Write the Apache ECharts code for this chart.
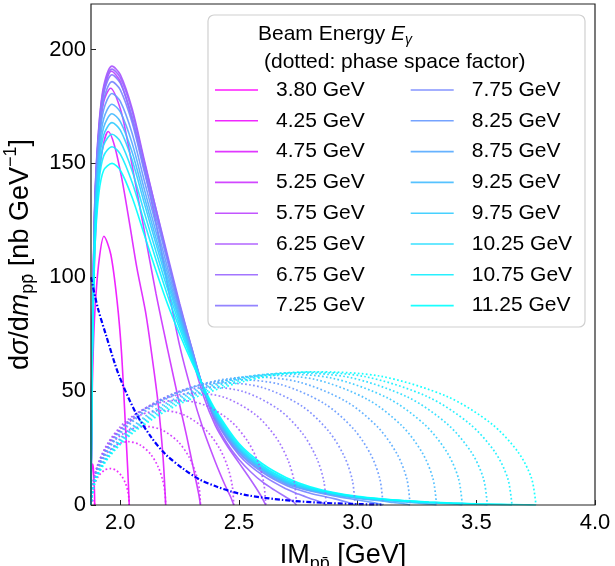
<!DOCTYPE html>
<html>
<head>
<meta charset="utf-8">
<script src="https://cdn.jsdelivr.net/npm/echarts@6/dist/echarts.min.js"></script>
<style>
html,body{margin:0;padding:0;background:#fff;}
#chart{width:615px;height:566px;}
</style>
</head>
<body>
<div id="chart"></div>
<script>
// ---------------- data ----------------
const energies = ['3.80 GeV','4.25 GeV','4.75 GeV','5.25 GeV','5.75 GeV','6.25 GeV','6.75 GeV','7.25 GeV',
                  '7.75 GeV','8.25 GeV','8.75 GeV','9.25 GeV','9.75 GeV','10.25 GeV','10.75 GeV','11.25 GeV'];
const xTicks = [2.0, 2.5, 3.0, 3.5, 4.0];
const yTicks = [0, 50, 100, 150, 200];
const X_MIN = 1.8765, X_MAX = 4.0, Y_MIN = 0, Y_MAX = 220;

// solid: d sigma / d m  (nb/GeV)
const solid_380 = [[1.8765,0],[1.8775,8],[1.879,14.5],[1.881,17.5],[1.883,18],[1.886,16.5],[1.889,11.5],[1.891,6],[1.8921,0]];
const solid_425 = [[1.8765,0],[1.880,40],[1.886,68],[1.894,87],[1.910,107],[1.931,118],[1.960,110],[1.987,89],[2.005,67],[2.022,34],[2.032,14],[2.0376,0]];
const solid_475 = [[1.8765,0],[1.880,50],[1.886,85],[1.894,115],[1.910,144],[1.930,159],[1.949,164],[1.975,158],[2.007,143],[2.040,123],[2.070,104],[2.106,85],[2.130,68],[2.160,44],[2.180,21],[2.1912,0]];
const solid_525 = [[1.8765,0],[1.880,56],[1.886,95],[1.894,130],[1.910,160],[1.930,177],[1.959,183],[2.000,174],[2.030,160],[2.065,140.5],[2.100,121],[2.150,93],[2.200,68],[2.250,44],[2.280,30],[2.310,15],[2.330,5],[2.3377,0]];
const solid_575 = [[1.8765,0],[1.880,58],[1.886,98],[1.894,135],[1.910,164],[1.930,181],[1.963,190.5],[2.000,186],[2.050,169],[2.100,148],[2.150,124],[2.200,96],[2.250,70],[2.300,50],[2.350,33],[2.400,19],[2.440,9],[2.465,3.5],[2.4779,0]];
const solid_625 = [[1.8765,0],[1.880,60],[1.886,100],[1.894,138],[1.910,167],[1.930,184],[1.965,192.7],[2.000,189],[2.050,174],[2.100,152],[2.150,130],[2.200,108],[2.250,86],[2.300,66],[2.350,48],[2.400,35],[2.450,26],[2.500,18.5],[2.550,11],[2.590,4.5],[2.6126,0]];
const solid_675 = [[1.8765,0],[1.880,59.7],[1.886,99.6],[1.894,137.3],[1.910,166.1],[1.930,182.9],[1.965,191.4],[2.000,187.7],[2.050,172.8],[2.100,151],[2.150,130.2],[2.200,109.3],[2.250,88.6],[2.300,69.2],[2.350,50.5],[2.400,36.5],[2.450,27],[2.500,20],[2.550,14.5],[2.600,10],[2.650,6.5],[2.700,3.3],[2.730,1.3],[2.7423,0]];
const solid_725 = [[1.8765,0],[1.880,59.1],[1.886,98.7],[1.894,135.9],[1.910,164.3],[1.930,180.7],[1.965,188.9],[2.000,185.2],[2.050,170.5],[2.100,149],[2.150,128.5],[2.200,108],[2.250,87.7],[2.300,69.4],[2.350,51.1],[2.400,37.5],[2.500,22],[2.600,13],[2.700,7],[2.750,4.8],[2.800,2.9],[2.840,1.4],[2.8676,0]];
const solid_775 = [[1.8765,0],[1.880,58.4],[1.886,97.8],[1.894,134.3],[1.910,162.2],[1.930,178.1],[1.965,185.9],[2.000,182.3],[2.050,167.8],[2.100,146.7],[2.150,126.5],[2.200,106.5],[2.250,86.8],[2.300,68.9],[2.350,51.2],[2.400,37.8],[2.500,22.8],[2.600,14.2],[2.700,8.6],[2.800,5.2],[2.900,2.8],[2.950,1.4],[2.975,0.6],[2.989,0]];
const solid_825 = [[1.8765,0],[1.880,57.2],[1.886,96.1],[1.894,131.6],[1.910,158.6],[1.930,173.6],[1.965,180.7],[2.000,177.2],[2.050,163.1],[2.100,142.8],[2.150,123.2],[2.200,103.8],[2.250,85.1],[2.300,68],[2.350,51.3],[2.400,38.4],[2.500,23.4],[2.600,14.8],[2.700,9.1],[2.800,6.2],[2.900,4.0],[3.000,2.2],[3.050,1.3],[3.090,0.5],[3.1067,0]];
const solid_875 = [[1.8765,0],[1.880,56.1],[1.886,94.5],[1.894,129],[1.910,155.3],[1.930,169.6],[1.965,176],[2.000,172.6],[2.050,158.8],[2.100,139.1],[2.150,120.1],[2.200,101.4],[2.250,83.5],[2.300,67.3],[2.350,51.4],[2.400,39],[2.500,24],[2.600,15.3],[2.700,9.6],[2.800,6.5],[2.900,4.5],[3.000,2.9],[3.100,1.8],[3.150,1.1],[3.200,0.45],[3.221,0]];
const solid_925 = [[1.8765,0],[1.880,55.1],[1.886,93.1],[1.894,126.7],[1.910,152.3],[1.930,165.9],[1.965,171.8],[2.000,168.4],[2.050,154.9],[2.100,135.8],[2.150,117.3],[2.200,99.2],[2.250,82.1],[2.300,66.6],[2.350,51.5],[2.400,39.5],[2.500,24.5],[2.600,15.7],[2.700,10],[2.800,6.7],[2.900,4.6],[3.000,3.2],[3.100,2.1],[3.200,1.3],[3.270,0.7],[3.310,0.3],[3.3323,0]];
const solid_975 = [[1.8765,0],[1.880,54.2],[1.886,91.9],[1.894,124.7],[1.910,149.6],[1.930,162.5],[1.965,167.9],[2.000,164.6],[2.050,151.4],[2.100,132.9],[2.150,114.8],[2.200,97.2],[2.250,80.9],[2.300,65.9],[2.350,51.6],[2.400,39.9],[2.500,24.9],[2.600,16.1],[2.700,10.3],[2.800,6.95],[2.900,4.8],[3.000,3.3],[3.100,2.4],[3.200,1.6],[3.300,1.0],[3.380,0.6],[3.420,0.3],[3.4408,0]];
const solid_1025 = [[1.8765,0],[1.880,53],[1.886,90.2],[1.894,121.9],[1.910,146],[1.930,158.1],[1.965,162.8],[2.000,159.6],[2.050,146.7],[2.100,128.9],[2.150,111.4],[2.200,94.6],[2.250,79.2],[2.300,65.1],[2.350,51.7],[2.400,40.5],[2.500,25.5],[2.600,16.65],[2.700,10.8],[2.800,7.25],[2.900,5.0],[3.000,3.5],[3.100,2.5],[3.200,1.7],[3.300,1.15],[3.400,0.75],[3.480,0.45],[3.530,0.2],[3.5467,0]];
const solid_1075 = [[1.8765,0],[1.880,51.7],[1.886,88.4],[1.894,118.9],[1.910,142.1],[1.930,153.3],[1.965,157.3],[2.000,154.1],[2.050,141.6],[2.100,124.6],[2.150,107.8],[2.200,91.7],[2.250,77.4],[2.300,64.2],[2.350,51.8],[2.400,41.2],[2.500,26.2],[2.600,17.2],[2.700,11.3],[2.800,7.6],[2.900,5.2],[3.000,3.6],[3.100,2.6],[3.200,1.8],[3.300,1.2],[3.400,0.8],[3.500,0.45],[3.580,0.25],[3.630,0.1],[3.6501,0]];
const solid_1125 = [[1.8765,0],[1.880,50],[1.886,86],[1.894,115],[1.910,137],[1.930,147],[1.965,150],[2.000,147],[2.050,135],[2.100,119],[2.150,103],[2.200,88],[2.250,75],[2.300,63],[2.350,52],[2.400,42],[2.500,27],[2.600,18],[2.700,12],[2.800,8],[2.900,5.5],[3.000,3.8],[3.100,2.7],[3.200,1.9],[3.300,1.3],[3.400,0.85],[3.500,0.5],[3.600,0.3],[3.700,0.1],[3.7512,0]];

// dotted: phase space factor
const dot_380 = [[1.8765,0],[1.8781,1.08],[1.8812,1.65],[1.8843,1.8],[1.8874,1.65],[1.8905,1.08],[1.8921,0]];
const dot_425 = [[1.8765,0],[1.8781,3.18],[1.8829,6.27],[1.8926,9.6],[1.9087,12.8],[1.9329,15.26],[1.9571,16],[1.9812,15.26],[2.0054,12.8],[2.0215,9.6],[2.0312,6.27],[2.036,3.18],[2.0376,0]];
const dot_475 = [[1.8765,0],[1.8796,5.53],[1.8891,10.9],[1.908,16.68],[1.9394,22.24],[1.9866,26.52],[2.0339,27.8],[2.0811,26.52],[2.1283,22.24],[2.1597,16.68],[2.1786,10.9],[2.1881,5.53],[2.1912,0]];
const dot_525 = [[1.8765,0],[1.8811,6.87],[1.8949,13.52],[1.9226,20.7],[1.9687,27.6],[2.0379,32.91],[2.1071,34.5],[2.1763,32.91],[2.2455,27.6],[2.2916,20.7],[2.3193,13.52],[2.3331,6.87],[2.3377,0]];
const dot_575 = [[1.8765,0],[1.8825,8.26],[1.9006,16.27],[1.9366,24.9],[1.9968,33.2],[2.087,39.59],[2.1772,41.5],[2.2674,39.59],[2.3576,33.2],[2.4178,24.9],[2.4538,16.27],[2.4719,8.26],[2.4779,0]];
const dot_625 = [[1.8765,0],[1.8839,9.15],[1.906,18.03],[1.9501,27.6],[2.0237,36.8],[2.1341,43.88],[2.2446,46],[2.355,43.88],[2.4654,36.8],[2.539,27.6],[2.5832,18.03],[2.6052,9.15],[2.6126,0]];
const dot_675 = [[1.8765,0],[1.8852,9.3],[1.9111,18.45],[1.9631,28.44],[2.0497,38.33],[2.1795,46.4],[2.3094,49.15],[2.4393,47.23],[2.5691,39.7],[2.6557,29.72],[2.7077,19.38],[2.7336,9.84],[2.7423,0]];
const dot_725 = [[1.8765,0],[1.8864,9.79],[1.9161,19.43],[1.9756,29.94],[2.0747,40.35],[2.2234,48.85],[2.372,51.75],[2.5207,49.73],[2.6694,41.8],[2.7685,31.29],[2.828,20.41],[2.8577,10.36],[2.8676,0]];
const dot_775 = [[1.8765,0],[1.8876,10.15],[1.921,20.14],[1.9878,31.04],[2.099,41.83],[2.2659,50.64],[2.4328,53.65],[2.5996,51.55],[2.7665,43.34],[2.8778,32.43],[2.9445,21.16],[2.9779,10.74],[2.989,0]];
const dot_825 = [[1.8765,0],[1.8888,10.41],[1.9257,20.66],[1.9995,31.85],[2.1225,42.92],[2.3071,51.96],[2.4916,55.04],[2.6761,52.9],[2.8607,44.47],[2.9837,33.28],[3.0575,21.71],[3.0944,11.02],[3.1067,0]];
const dot_875 = [[1.8765,0],[1.89,10.64],[1.9303,21.11],[2.011,32.54],[2.1454,43.86],[2.3471,53.09],[2.5488,56.24],[2.7504,54.05],[2.9521,45.43],[3.0866,34.0],[3.1672,22.18],[3.2076,11.26],[3.221,0]];
const dot_925 = [[1.8765,0],[1.8911,10.22],[1.9347,20.38],[2.0221,31.69],[2.1677,43.28],[2.386,53.16],[2.6044,56.99],[2.8228,55.1],[3.0411,46.42],[3.1867,34.75],[3.2741,22.61],[3.3177,11.42],[3.3323,0]];
const dot_975 = [[1.8765,0],[1.8921,10.33],[1.9391,20.6],[2.0329,32.02],[2.1894,43.74],[2.424,53.72],[2.6587,57.58],[2.8933,55.68],[3.1279,46.91],[3.2844,35.11],[3.3782,22.85],[3.4252,11.54],[3.4408,0]];
const dot_1025 = [[1.8765,0],[1.8932,10.41],[1.9433,20.76],[2.0435,32.27],[2.2105,44.08],[2.4611,54.14],[2.7116,58.03],[2.9621,56.11],[3.2127,47.28],[3.3797,35.38],[3.4799,23.03],[3.53,11.63],[3.5467,0]];
const dot_1075 = [[1.8765,0],[1.8942,10.46],[1.9474,20.87],[2.0539,32.45],[2.2312,44.31],[2.4973,54.43],[2.7633,58.34],[3.0293,56.41],[3.2954,47.53],[3.4727,35.57],[3.5792,23.15],[3.6324,11.69],[3.6501,0]];
const dot_1125 = [[1.8765,0],[1.8952,10.49],[1.9515,20.93],[2.064,32.54],[2.2514,44.44],[2.5327,54.59],[2.8139,58.51],[3.095,56.58],[3.3763,47.67],[3.5637,35.68],[3.6762,23.22],[3.7325,11.73],[3.7512,0]];

// blue dash-dot curve
const blueCurve = [[1.8765,100],[1.904,87],[1.94,74.5],[1.994,57],[2.065,40.5],[2.13,29.8],[2.19,22.3],[2.264,16],[2.334,11.2],[2.405,8.1],[2.475,5.7],[2.545,4.1],[2.686,2.2],[2.826,1.1],[2.967,0.5],[3.1,0.2]];

const solidCurves = [solid_380,solid_425,solid_475,solid_525,solid_575,solid_625,solid_675,solid_725,
                     solid_775,solid_825,solid_875,solid_925,solid_975,solid_1025,solid_1075,solid_1125];
const dottedCurves = [dot_380,dot_425,dot_475,dot_525,dot_575,dot_625,dot_675,dot_725,
                      dot_775,dot_825,dot_875,dot_925,dot_975,dot_1025,dot_1075,dot_1125];

// ---------------- styling ----------------
const FONT = "'Liberation Sans', Arial, Helvetica, sans-serif";
const AXIS_COLOR = '#222';
const GRID = { left: 91, top: 4, width: 504, height: 501 };
function coolR(i, n) {
  const f = i / (n - 1);
  return 'rgb(' + Math.round(255 * (1 - f)) + ',' + Math.round(255 * f) + ',255)';
}

const series = [];
solidCurves.forEach((d, i) => {
  const c = coolR(i, solidCurves.length);
  series.push({
    name: energies[i], type: 'line', data: d, symbol: 'none', showSymbol: false,
    smooth: 0.3, clip: true, z: 2,
    lineStyle: { color: c, width: 1.6, opacity: 0.92 }, itemStyle: { color: c },
    emphasis: { disabled: true }
  });
});
dottedCurves.forEach((d, i) => {
  const c = coolR(i, dottedCurves.length);
  series.push({
    name: 'ps ' + energies[i], type: 'line', data: d, symbol: 'none', showSymbol: false,
    smooth: 0.3, clip: true, z: 2,
    lineStyle: { color: c, width: 1.7, type: [1.7, 2.3], opacity: 0.9 }, itemStyle: { color: c },
    emphasis: { disabled: true }
  });
});
series.push({
  name: 'blue', type: 'line', data: blueCurve, symbol: 'none', showSymbol: false,
  smooth: 0.3, clip: true, z: 3,
  lineStyle: { color: '#0000ff', width: 2.2, type: [5, 2, 1.5, 2] }, itemStyle: { color: '#0000ff' },
  emphasis: { disabled: true }
});

const legendCommon = {
  orient: 'vertical', top: 78, itemWidth: 43, itemHeight: 14, itemGap: 6.8, padding: 0,
  selectedMode: false, z: 10,
  icon: 'path://M0,0L40,0L40,1.5L0,1.5Z',
  itemStyle: { opacity: 0.9 },
  textStyle: { fontSize: 21, fontFamily: FONT, color: '#000', lineHeight: 24, padding: [0, 0, 0, 13] }
};

const nameRichBase = {
  n: { fontSize: 27, fontFamily: FONT, color: '#000', lineHeight: 34 },
  i: { fontSize: 27, fontFamily: FONT, fontStyle: 'italic', color: '#000', lineHeight: 34 },
  s: { fontSize: 18, fontFamily: FONT, color: '#000', lineHeight: 34, padding: [16, 0, 0, 0] },
  sup: { fontSize: 18, fontFamily: FONT, color: '#000', lineHeight: 34, padding: [0, 0, 18, 0] }
};

const option = {
  animation: false,
  backgroundColor: '#ffffff',
  grid: { left: GRID.left, top: GRID.top, width: GRID.width, height: GRID.height, outerBoundsContain: 'axisLabel', show: false },
  xAxis: {
    type: 'value', min: X_MIN, max: X_MAX, position: 'bottom',
    axisLine: { show: false, onZero: false },
    axisTick: { show: true, inside: true, length: 5, customValues: xTicks, lineStyle: { color: AXIS_COLOR, width: 1 } },
    axisLabel: { customValues: xTicks, formatter: v => Number(v).toFixed(1), color: '#000', fontSize: 22, fontFamily: FONT, margin: 7, showMaxLabel: true, showMinLabel: true },
    splitLine: { show: false },
    name: '{n|IM}{s|pp\u0304}{n| [GeV]}', nameLocation: 'middle', nameGap: 20,
    nameTextStyle: { rich: nameRichBase }
  },
  yAxis: {
    type: 'value', min: Y_MIN, max: Y_MAX, position: 'left',
    axisLine: { show: false, onZero: false },
    axisTick: { show: true, inside: true, length: 5, customValues: yTicks, lineStyle: { color: AXIS_COLOR, width: 1 } },
    axisLabel: { customValues: yTicks, color: '#000', fontSize: 22, fontFamily: FONT, margin: 5 },
    splitLine: { show: false },
    name: '{n|d}{i|σ}{n|/d}{i|m}{s|pp\u0304}{n| [nb GeV}{sup|\u22121}{n|]}', nameLocation: 'middle', nameGap: 44, nameRotate: 90,
    nameTextStyle: { rich: nameRichBase }
  },
  legend: [
    Object.assign({}, legendCommon, { left: 215, data: energies.slice(0, 8) }),
    Object.assign({}, legendCommon, { left: 410.7, data: energies.slice(8) })
  ],
  graphic: {
    elements: [
      { type: 'rect', id: 'frame', z: 4, silent: true,
        shape: { x: GRID.left, y: GRID.top, width: GRID.width, height: GRID.height },
        style: { fill: 'transparent', stroke: AXIS_COLOR, lineWidth: 1.2 } },
      { type: 'rect', id: 'legendBox', z: 5, shape: { x: 208, y: 15, width: 377, height: 312, r: 6 },
        style: { fill: 'rgba(255,255,255,0.85)', stroke: '#d0d0d0', lineWidth: 1.2 } },
      { type: 'text', id: 'title1', z: 11, x: 258, y: 34,
        style: { text: '{a|Beam Energy }{e|E}{g|γ}', verticalAlign: 'middle', align: 'left',
          rich: {
            a: { fontSize: 21, fontFamily: FONT, fill: '#000', lineHeight: 26 },
            e: { fontSize: 21, fontFamily: FONT, fontStyle: 'italic', fill: '#000', lineHeight: 26 },
            g: { fontSize: 14, fontFamily: FONT, fontStyle: 'italic', fill: '#000', lineHeight: 26, padding: [12, 0, 0, 0] }
          } } },
      { type: 'text', id: 'title2', z: 11, x: 264, y: 62,
        style: { text: '(dotted: phase space factor)', verticalAlign: 'middle', align: 'left',
          font: '21px ' + FONT, fill: '#000' } }
    ]
  },
  series: series
};

const chart = echarts.init(document.getElementById('chart'), null, { renderer: 'canvas', width: 615, height: 566 });
chart.setOption(option);
</script>
</body>
</html>
